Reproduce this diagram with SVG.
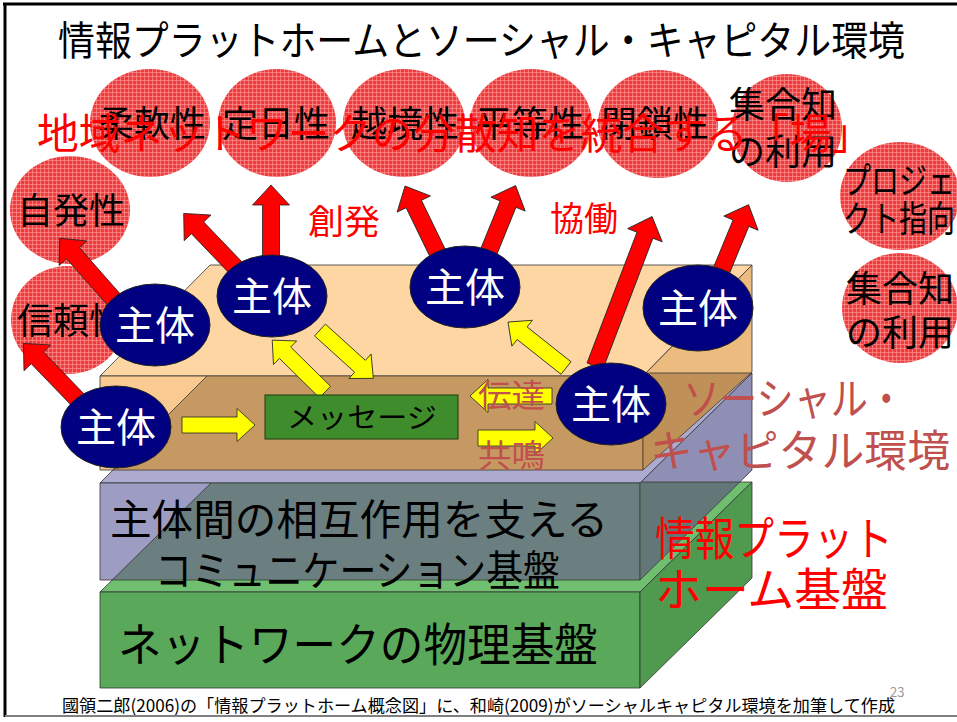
<svg xmlns="http://www.w3.org/2000/svg" width="957" height="722" viewBox="0 0 957 722">
<defs>
<style>
text{font-family:"Noto Sans CJK JP","Noto Sans CJK SC",sans-serif}
.circ{fill:url(#redtex)}
.ct{font-size:36px;fill:#000;text-anchor:middle}
.ctl{font-size:36px;fill:#000}
.ag{fill:#000080;stroke:#222;stroke-width:1}
.at{font-size:40px;fill:#fff;text-anchor:middle}
.ra{fill:#ff0000;stroke:#222;stroke-width:0.8;stroke-linejoin:miter}
.ya{fill:#ffff00;stroke:#222;stroke-width:0.8}
.edge{stroke:#333;stroke-width:0.8;stroke-linejoin:round}
.red{fill:#ff0000}
.sc{fill:#c0504d}
.lt{fill:#000}
</style>
<pattern id="redtex" width="4" height="4" patternUnits="userSpaceOnUse">
<rect width="4" height="4" fill="#f03c3c"/>
<rect width="4" height="1" fill="#ff9c9c" opacity="0.6"/>
<rect width="1" height="4" fill="#ff9c9c" opacity="0.6"/>
</pattern>
<clipPath id="clipPeach"><polygon points="100,376 643,376 752,265 752,372 643,470 100,470"/></clipPath>
<clipPath id="clipGray"><polygon points="100,483 640,483 752,373 752,470 640,580 100,580"/></clipPath>
</defs>

<rect width="957" height="722" fill="#fff"/>
<g id="frame">
<line x1="3" y1="4" x2="957" y2="4" stroke="#000" stroke-width="3"/>
<line x1="5" y1="3" x2="5" y2="717" stroke="#000" stroke-width="3"/>
<line x1="5" y1="716" x2="957" y2="716" stroke="#808080" stroke-width="2"/>
</g>

<text id="title" x="58" y="55" font-size="40" textLength="847" lengthAdjust="spacingAndGlyphs">情報プラットホームとソーシャル・キャピタル環境</text>

<g id="prop-juunan"><ellipse class="circ" cx="150" cy="123" rx="60" ry="54"/><text class="ct" x="152" y="137">柔軟性</text></g>
<g id="prop-teijitsu"><ellipse class="circ" cx="277" cy="123" rx="59" ry="54"/><text class="ct" x="276" y="137">定日性</text></g>
<g id="prop-ekkyou"><ellipse class="circ" cx="404" cy="123" rx="61" ry="54"/><text class="ct" x="405" y="137">越境性</text></g>
<g id="prop-byoudou"><ellipse class="circ" cx="531" cy="123" rx="61" ry="54"/><text class="ct" x="530" y="137">平等性</text></g>
<g id="prop-heisa"><ellipse class="circ" cx="658" cy="124" rx="60" ry="54"/><text class="ct" x="655" y="137">閉鎖性</text></g>
<g id="prop-shuugouchi1"><ellipse class="circ" cx="787" cy="128" rx="55" ry="54"/><text class="ct" x="783" y="118">集合知</text><text class="ct" x="783" y="165">の利用</text></g>
<g id="prop-project"><ellipse class="circ" cx="900" cy="196" rx="60" ry="54"/><text class="ctl" x="843" y="194" textLength="112" lengthAdjust="spacingAndGlyphs">プロジェ</text><text class="ctl" x="843" y="232" textLength="112" lengthAdjust="spacingAndGlyphs">クト指向</text></g>
<g id="prop-shuugouchi2"><ellipse class="circ" cx="900" cy="308" rx="58" ry="55"/><text class="ct" x="900" y="302">集合知</text><text class="ct" x="900" y="346">の利用</text></g>
<g id="prop-jihatsu"><ellipse class="circ" cx="70" cy="210" rx="60" ry="54"/><text class="ct" x="71" y="224">自発性</text></g>
<g id="prop-shinrai"><ellipse class="circ" cx="68" cy="320" rx="57" ry="54"/><text class="ctl" x="17" y="334">信頼性</text></g>

<g id="layer-network">
<polygon class="edge" points="100,592 212,482 752,482 640,592" fill="#70bf70"/>
<rect class="edge" x="100" y="592" width="540" height="96" fill="#5aa85a"/>
<polygon class="edge" points="640,592 752,482 752,578 640,688" fill="#4f9a4f"/>
<text class="lt" x="118" y="661" font-size="46" textLength="480" lengthAdjust="spacingAndGlyphs">ネットワークの物理基盤</text>
</g>

<g id="layer-comm">
<polygon class="edge" points="100,483 210,373 752,373 640,483" fill="#acabcf"/>
<rect class="edge" x="100" y="483" width="540" height="97" fill="#9d9dc4"/>
<polygon class="edge" points="640,483 752,373 752,470 640,580" fill="#8f8fb5"/>
<polygon class="edge" points="100,592 212,482 752,482 640,592" fill="#2e5a2e" fill-opacity="0.45" clip-path="url(#clipGray)"/>
<text class="lt" x="110" y="535" font-size="42" textLength="498" lengthAdjust="spacingAndGlyphs">主体間の相互作用を支える</text>
<text class="lt" x="155" y="586" font-size="42" textLength="405" lengthAdjust="spacingAndGlyphs">コミュニケーション基盤</text>
</g>

<g id="layer-social">
<polygon class="edge" points="100,376 210,265 752,265 643,376" fill="#fdd6a3"/>
<rect class="edge" x="100" y="376" width="543" height="94" fill="#f9ca92"/>
<polygon class="edge" points="643,376 752,265 752,372 643,470" fill="#ebbb80"/>
<polygon class="edge" points="100,483 210,373 752,373 640,483" fill="#7d4f1c" fill-opacity="0.4" clip-path="url(#clipPeach)"/>
</g>

<g id="connectors">
<polygon class="ra" transform="translate(79,401) rotate(-134)" points="0,-8.5 60,-8.5 60,-18.5 80,0 60,18.5 60,8.5 0,8.5"/>
<polygon class="ra" transform="translate(116,302) rotate(-131.4)" points="0,-8.5 65,-8.5 65,-18.5 85,0 65,18.5 65,8.5 0,8.5"/>
<polygon class="ra" transform="translate(237,269) rotate(-133.8)" points="0,-8.5 57,-8.5 57,-18.5 77,0 57,18.5 57,8.5 0,8.5"/>
<polygon class="ra" transform="translate(271,259) rotate(-90)" points="0,-8.5 54,-8.5 54,-18.5 74,0 54,18.5 54,8.5 0,8.5"/>
<polygon class="ra" transform="translate(440,258) rotate(-115.9)" points="0,-8.5 60,-8.5 60,-18.5 80,0 60,18.5 60,8.5 0,8.5"/>
<polygon class="ra" transform="translate(487,256) rotate(-67.9)" points="0,-8.5 56,-8.5 56,-18.5 76,0 56,18.5 56,8.5 0,8.5"/>
<polygon class="ra" transform="translate(595,366) rotate(-69.1)" points="0,-8.5 140,-8.5 140,-18.5 160,0 140,18.5 140,8.5 0,8.5"/>
<polygon class="ra" transform="translate(720,274) rotate(-67.6)" points="0,-8.5 55,-8.5 55,-18.5 75,0 55,18.5 55,8.5 0,8.5"/>

<polygon class="ya" transform="translate(182,425)" points="0,-8 55,-8 55,-16.5 73,0 55,16.5 55,8 0,8"/>
<polygon class="ya" transform="translate(325,392) rotate(-135.5)" points="0,-8 56,-8 56,-16.5 74,0 56,16.5 56,8 0,8"/>
<polygon class="ya" transform="translate(320,330) rotate(42.2)" points="0,-8 54,-8 54,-16.5 72,0 54,16.5 54,8 0,8"/>
<polygon class="ya" transform="translate(566,368) rotate(-141.6)" points="0,-8 56,-8 56,-16.5 74,0 56,16.5 56,8 0,8"/>
<polygon class="ya" transform="translate(552,396) rotate(180)" points="0,-8 64,-8 64,-16.5 82,0 64,16.5 64,8 0,8"/>
<polygon class="ya" transform="translate(478,438)" points="0,-8 57,-8 57,-16.5 75,0 57,16.5 57,8 0,8"/>
</g>

<g id="message">
<rect x="265" y="395" width="193" height="44" fill="#3f8c2c" stroke="#1a3a10" stroke-width="1"/>
<text x="362" y="428" font-size="28" text-anchor="middle" textLength="150" lengthAdjust="spacingAndGlyphs" fill="#000">メッセージ</text>
</g>

<g id="actor1"><ellipse class="ag" cx="116" cy="427" rx="55" ry="41"/><text class="at" x="116" y="442">主体</text></g>
<g id="actor2"><ellipse class="ag" cx="155" cy="325" rx="55" ry="41"/><text class="at" x="155" y="340">主体</text></g>
<g id="actor3"><ellipse class="ag" cx="272" cy="296" rx="55" ry="41"/><text class="at" x="272" y="311">主体</text></g>
<g id="actor4"><ellipse class="ag" cx="465" cy="287" rx="55" ry="41"/><text class="at" x="465" y="302">主体</text></g>
<g id="actor5"><ellipse class="ag" cx="698" cy="308" rx="55" ry="43"/><text class="at" x="698" y="323">主体</text></g>
<g id="actor6"><ellipse class="ag" cx="611" cy="404" rx="55" ry="41"/><text class="at" x="611" y="419">主体</text></g>

<g id="labels">
<text class="red" x="308" y="234" font-size="34" textLength="72" lengthAdjust="spacingAndGlyphs">創発</text>
<text class="red" x="550" y="231" font-size="34" textLength="68" lengthAdjust="spacingAndGlyphs">協働</text>
<text class="sc" x="478" y="407" font-size="32" textLength="67" lengthAdjust="spacingAndGlyphs">伝達</text>
<text class="sc" x="478" y="467" font-size="32" textLength="67" lengthAdjust="spacingAndGlyphs">共鳴</text>
<text class="sc" x="683" y="415" font-size="44" textLength="222" lengthAdjust="spacingAndGlyphs">ソーシャル・</text>
<text class="sc" x="650" y="467" font-size="44" textLength="300" lengthAdjust="spacingAndGlyphs">キャピタル環境</text>
<text class="red" x="655" y="555" font-size="46" textLength="238" lengthAdjust="spacingAndGlyphs">情報プラット</text>
<text class="red" x="655" y="606" font-size="46" textLength="233" lengthAdjust="spacingAndGlyphs">ホーム基盤</text>
<text class="red" x="37" y="149" font-size="42" textLength="836" lengthAdjust="spacingAndGlyphs">地域ネットワークの分散知を統合する「場」</text>
</g>

<g id="caption">
<text x="62" y="712" font-size="17" textLength="833" lengthAdjust="spacingAndGlyphs" fill="#000">國領二郎(2006)の「情報プラットホーム概念図」に、和崎(2009)がソーシャルキャピタル環境を加筆して作成</text>
<text x="890" y="697" font-size="13" fill="#999">23</text>
</g>
</svg>
